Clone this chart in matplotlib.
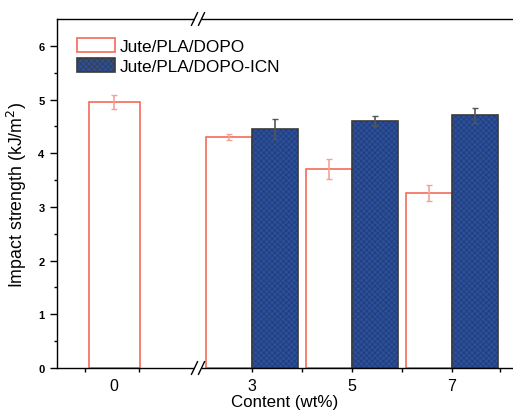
"""
Impact strength of Jute/PLA composites with DOPO and DOPO-ICN (bar chart with broken x axis)
"""

import matplotlib
matplotlib.use("Agg")
import matplotlib.pyplot as plt
from matplotlib.patches import Patch, Rectangle
from matplotlib.lines import Line2D

plt.rcParams['font.family'] = ['Liberation Sans', 'DejaVu Sans']
plt.rcParams['hatch.linewidth'] = 0.45

# data
contents = ['0', '3', '5', '7']
dopo = [4.95, 4.30, 3.71, 3.26]
dopo_err = [0.13, 0.06, 0.19, 0.15]
icn = [4.45, 4.60, 4.71]          # only 3, 5, 7 wt%
icn_err = [0.19, 0.09, 0.14]

# layout of the broken axis (x units)
dopo_pos = [0.24, 2.54, 4.54, 6.54]
dopo_width = [1.02, 0.92, 0.92, 0.92]
icn_pos = [3.46, 5.46, 7.46]
icn_width = 0.92
label_pos = [0.24, 3, 5, 7]
minor_pos = [-0.34, 0.74, 4, 6, 7.96]
break_x = 1.92

red = '#F26B5B'
red_err = '#F5A393'
blue = '#2C4F98'
hatch_col = '#1E3A78'
dark = '#3A3A3A'

fig = plt.figure(figsize=(5.13, 4.14), dpi=100)
ax = fig.add_axes([57 / 513, 45 / 414, 456 / 513, 349 / 414])

# Jute/PLA/DOPO - open bars
ax.bar(dopo_pos, dopo, width=dopo_width, facecolor='white', edgecolor=red,
       linewidth=1.2, zorder=2)
ax.errorbar(dopo_pos, dopo, yerr=dopo_err, fmt='none', ecolor=red_err,
            elinewidth=1.2, capsize=2.5, capthick=1.0, zorder=3)

# Jute/PLA/DOPO-ICN - hatched blue bars (hatch first, outline on top)
ax.bar(icn_pos, icn, width=icn_width, facecolor=blue, edgecolor=hatch_col,
       hatch='xxxxxx', linewidth=0, zorder=2)
ax.bar(icn_pos, icn, width=icn_width, facecolor='none', edgecolor=dark,
       linewidth=1.2, zorder=2.5)
ax.errorbar(icn_pos, icn, yerr=icn_err, fmt='none', ecolor='#555555',
            elinewidth=1.2, capsize=2.5, capthick=1.0, zorder=3)

ax.set_xlim(-0.9, 8.22)
ax.set_ylim(0, 6.5)

ax.set_xticks(label_pos, labels=contents)
ax.set_xticks(minor_pos, minor=True)
ax.xaxis.get_major_ticks()[0].tick1line.set_visible(False)
ax.tick_params(axis='x', which='both', direction='out', length=3, width=1,
               labelsize=11.5, pad=4)
ax.set_yticks(range(0, 7))
ax.set_yticks([i + 0.5 for i in range(6)], minor=True)
ax.tick_params(axis='y', which='major', direction='out', length=5, width=1,
               labelsize=8, pad=4)
ax.tick_params(axis='y', which='minor', direction='out', length=2.5, width=1)
for lab in ax.get_yticklabels():
    lab.set_fontweight('bold')

ax.spines['right'].set_visible(False)
for s in ['left', 'top', 'bottom']:
    ax.spines[s].set_linewidth(1.0)

ax.set_xlabel('Content (wt%)', fontsize=12.2, labelpad=1)
ax.set_ylabel('Impact strength (kJ/m$^2$)', fontsize=12.8, labelpad=7)

# axis break marks "//" on top and bottom spines
trans = ax.get_xaxis_transform()
gap = 0.07
dy = 0.018
for yb in [0, 1]:
    ax.add_patch(Rectangle((break_x - gap, yb - 0.006), 2 * gap, 0.012,
                           transform=trans, facecolor='white', edgecolor='none',
                           clip_on=False, zorder=5))
    for xc in [break_x - gap, break_x + gap]:
        ax.add_line(Line2D([xc - 0.06, xc + 0.06], [yb - dy, yb + dy],
                           transform=trans, color='black', linewidth=1.0,
                           clip_on=False, zorder=6))

handles = [
    Patch(facecolor='white', edgecolor=red, linewidth=1.2),
    Patch(facecolor=blue, edgecolor=hatch_col, hatch='xxxxxx', linewidth=1.2),
]
leg = ax.legend(handles, ['Jute/PLA/DOPO', 'Jute/PLA/DOPO-ICN'],
                loc='upper left', bbox_to_anchor=(0.044, 0.945), frameon=False,
                fontsize=12.4, handlelength=2.2, handleheight=0.85,
                handletextpad=0.3, labelspacing=0.25, borderpad=0,
                borderaxespad=0)
leg.get_patches()[1].set_edgecolor(dark)

fig.savefig('out.png', dpi=100)
